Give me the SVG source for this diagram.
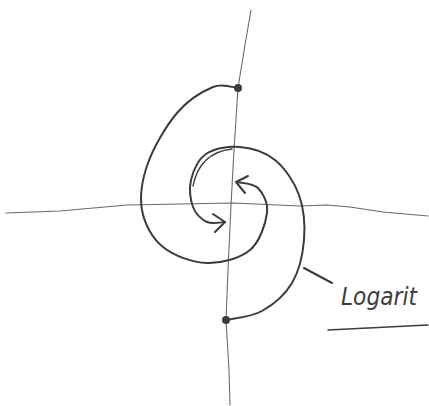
<svg xmlns="http://www.w3.org/2000/svg" width="429" height="406" viewBox="0 0 429 406">
<style>
.axis{fill:none;stroke:#6a6a6a;stroke-width:1.1;stroke-linejoin:round;stroke-linecap:round}
.curve{fill:none;stroke:#3c3c3c;stroke-width:2;stroke-linejoin:round;stroke-linecap:round}
.thin{fill:none;stroke:#3c3c3c;stroke-width:1.3;stroke-linecap:round}
.dot{fill:#3c3c3c}
.label{font-family:"DejaVu Sans","Liberation Sans",sans-serif;font-style:italic;font-size:25px;fill:#3c3c3c}
</style>
<rect width="429" height="406" fill="#ffffff"/>
<g id="axes">
<path class="axis" d="M251,10 L245,45 L238,88 L234,150 L231,205 L228,270 L226,320 L229,370 L230,405"/>
<path class="axis" d="M6,213 L60,211 L127,205 L180,204 L233,203 L300,206 L327,205 L350,207 L383,212 L428,216"/>
</g>
<g id="connectors">
<g id="spiral-outer">
<path class="curve" d="M238,88 C233.8,87.8 223.2,82.8 213,87 C202.8,91.2 187.8,100.3 177,113 C166.2,125.7 153.8,146.8 148,163 C142.2,179.2 139.5,196 142,210 C144.5,224 152.2,238.2 163,247 C173.8,255.8 192.5,262.5 207,263 C221.5,263.5 240,258.3 250,250 C260,241.7 265.7,223.3 267,213 C268.3,202.7 263,193.2 258,188 C253,182.8 240.5,183 237,182"/>
<path class="curve" d="M248,176 L236,182 L245,193"/>
</g>
<g id="spiral-inner">
<path class="curve" d="M226,320 C232,318.5 251,317.2 262,311 C273,304.8 285,294.8 292,283 C299,271.2 302.8,254.7 304,240 C305.2,225.3 303.8,208.3 299,195 C294.2,181.7 284.8,168 275,160 C265.2,152 251.5,148 240,147 C228.5,146 214.2,148.5 206,154 C197.8,159.5 193.2,171.2 191,180 C188.8,188.8 190.3,200 193,207 C195.7,214 201.7,219.5 207,222 C212.3,224.5 222,222 225,222"/>
<path class="thin" d="M232,149 C214,151 198,161 193,186"/>
<path class="curve" d="M213,214 L225,222 L215,232"/>
</g>
<path id="leader" class="curve" d="M304,268 L332,283"/>
</g>
<g id="start-top"><circle class="dot" cx="238" cy="88" r="4"/></g>
<g id="start-bottom"><circle class="dot" cx="226" cy="320" r="4"/></g>
<g id="label">
<text class="label" x="341" y="305" textLength="76" lengthAdjust="spacingAndGlyphs">Logarit</text>
<path class="thin" d="M328,330 L428,325"/>
</g>
</svg>
